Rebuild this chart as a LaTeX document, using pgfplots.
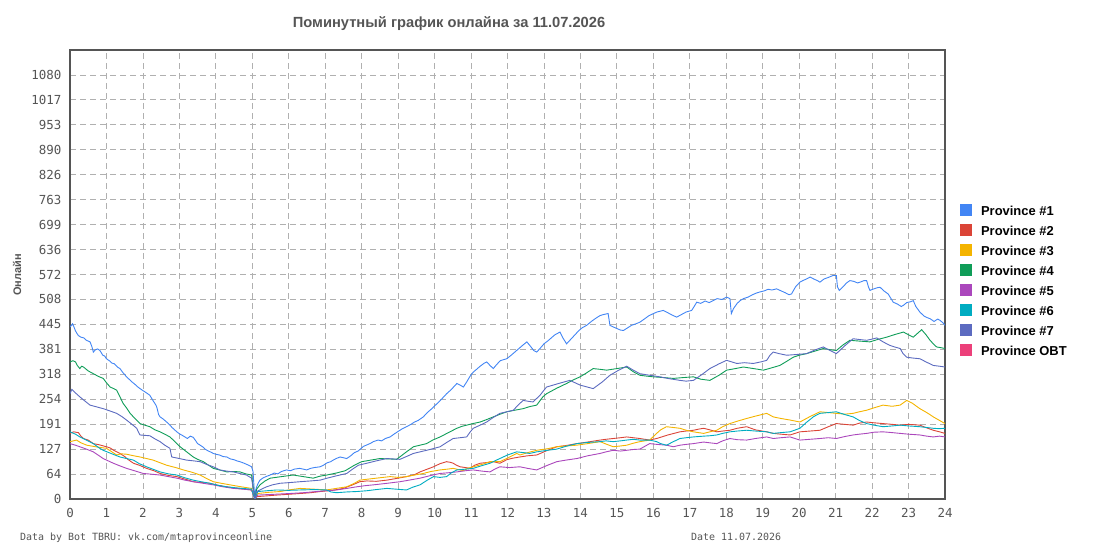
\documentclass[border=0pt]{standalone}
\usepackage{pgfplots}
\pgfplotsset{compat=1.18}
\usepackage{fontspec}
\setmainfont{Liberation Sans}
\newfontfamily\monofont{DejaVu Sans Mono}
\definecolor{pA}{HTML}{4285F4}
\definecolor{pB}{HTML}{DB4437}
\definecolor{pC}{HTML}{F4B400}
\definecolor{pD}{HTML}{0F9D58}
\definecolor{pE}{HTML}{AB47BC}
\definecolor{pF}{HTML}{00ACC1}
\definecolor{pG}{HTML}{5C6BC0}
\definecolor{pH}{HTML}{EC407A}
\definecolor{txt}{HTML}{555555}
\definecolor{gridc}{HTML}{B0B0B0}
\begin{document}
\begin{tikzpicture}
\useasboundingbox (0,0) rectangle (1095bp,550bp);
\begin{axis}[
  at={(70bp,51bp)}, anchor=south west,
  scale only axis, width=875bp, height=449bp,
  xmin=0, xmax=24, ymin=0, ymax=1143,
  xtick={0,1,2,3,4,5,6,7,8,9,10,11,12,13,14,15,16,17,18,19,20,21,22,23,24},
  xticklabels={0,1,2,3,4,5,6,7,8,9,10,11,12,13,14,15,16,17,18,19,20,21,22,23,24},
  ytick={0,63.5,127,190.5,254,317.5,381,444.5,508,571.5,635,698.5,762,825.5,889,952.5,1016,1079.5},
  yticklabels={0,64,127,191,254,318,381,445,508,572,636,699,763,826,890,953,1017,1080},
  major tick length=0pt,
  grid=major,
  grid style={gridc, line width=0.8bp, dash pattern=on 6bp off 4bp},
  axis line style={draw=txt, line width=1.2bp},
  tick label style={font=\monofont\fontsize{12.5}{13}\selectfont, text=txt},
  yticklabel style={xshift=-5bp},
  xticklabel style={yshift=-6bp},
  every axis plot/.append style={line width=0.9bp, mark=none},
  legend cell align=left,
  legend image code/.code={\fill[#1] (0bp,-3.5bp) rectangle (11bp,7.5bp);},
  legend style={at={(1.0171,0.657)}, anchor=north west, draw=none, fill=none,
    inner sep=0pt, row sep=6bp,
    font=\bfseries\fontsize{13}{13}\selectfont,
    nodes={inner sep=0pt, text height=9.5bp, text depth=2.5bp},
    /tikz/every odd column/.append style={column sep=9bp}},
]
\addplot[pA] coordinates {(0,438)(0.04,442)(0.07,446)(0.1,440)(0.15,428)(0.2,420)(0.23,416)(0.3,412)(0.38,410)(0.45,404)(0.55,400)(0.6,388)(0.64,374)(0.7,380)(0.76,382)(0.82,378)(0.9,366)(0.95,364)(1.0,357)(1.08,352)(1.15,346)(1.22,344)(1.3,336)(1.37,332)(1.45,322)(1.55,311)(1.62,305)(1.7,298)(1.78,292)(1.85,286)(1.92,281)(2.0,276)(2.1,270)(2.19,264)(2.28,250)(2.35,240)(2.38,234)(2.43,215)(2.47,209)(2.55,204)(2.65,196)(2.72,190)(2.8,182)(2.87,176)(2.93,171)(3.0,166)(3.08,162)(3.15,158)(3.22,154)(3.3,160)(3.38,157)(3.45,148)(3.5,141)(3.57,137)(3.65,132)(3.72,126)(3.8,122)(3.87,119)(3.93,116)(4.0,114)(4.1,112)(4.2,108)(4.3,107)(4.4,102)(4.5,100)(4.58,97)(4.66,95)(4.75,92)(4.85,88)(4.92,85)(4.98,82)(5.02,70)(5.07,0)(5.09,22)(5.12,31)(5.16,40)(5.21,48)(5.3,54)(5.4,58)(5.49,61)(5.6,66)(5.7,64)(5.8,70)(5.94,74)(6.05,72)(6.15,76)(6.3,78)(6.4,76)(6.49,74)(6.6,78)(6.7,80)(6.86,82)(6.95,86)(7.05,92)(7.15,95)(7.22,99)(7.3,103)(7.41,107)(7.5,105)(7.59,103)(7.7,110)(7.8,118)(7.9,122)(7.95,126)(8.05,134)(8.15,138)(8.25,142)(8.32,146)(8.45,150)(8.55,148)(8.65,154)(8.78,158)(8.9,166)(9.0,172)(9.1,178)(9.23,184)(9.35,190)(9.45,196)(9.55,200)(9.69,209)(9.8,220)(9.9,228)(9.97,234)(10.08,244)(10.2,255)(10.33,268)(10.45,278)(10.55,288)(10.61,294)(10.7,290)(10.79,285)(10.88,298)(10.97,312)(11.06,323)(11.15,330)(11.25,338)(11.35,345)(11.43,349)(11.52,340)(11.61,332)(11.7,342)(11.8,352)(11.9,355)(11.98,357)(12.1,366)(12.25,378)(12.4,390)(12.53,400)(12.62,390)(12.72,378)(12.8,374)(12.9,384)(13.0,395)(13.1,402)(13.2,410)(13.3,418)(13.44,425)(13.52,410)(13.62,395)(13.72,405)(13.85,418)(13.95,428)(14.05,436)(14.17,442)(14.3,452)(14.42,460)(14.54,467)(14.65,470)(14.76,472)(14.81,442)(14.9,438)(15.0,434)(15.1,430)(15.18,429)(15.3,436)(15.4,442)(15.52,446)(15.63,450)(15.75,458)(15.87,466)(16.0,472)(16.1,476)(16.27,480)(16.4,474)(16.52,468)(16.64,463)(16.78,470)(16.9,476)(17.05,480)(17.12,490)(17.19,501)(17.3,498)(17.42,504)(17.53,500)(17.64,505)(17.75,510)(17.88,508)(18.01,514)(18.1,510)(18.14,472)(18.2,485)(18.3,498)(18.38,505)(18.47,510)(18.6,514)(18.72,520)(18.82,524)(18.92,527)(19.05,530)(19.15,534)(19.25,532)(19.38,535)(19.5,530)(19.62,525)(19.72,520)(19.79,522)(19.9,540)(20.02,552)(20.1,556)(20.2,560)(20.3,565)(20.4,560)(20.5,556)(20.57,552)(20.68,560)(20.8,564)(20.93,569)(21.02,569)(21.05,540)(21.1,531)(21.2,540)(21.3,550)(21.39,556)(21.5,554)(21.6,550)(21.67,552)(21.78,556)(21.85,556)(21.9,540)(21.94,531)(22.05,535)(22.15,538)(22.22,539)(22.32,530)(22.44,522)(22.52,510)(22.58,501)(22.7,496)(22.8,490)(22.86,493)(22.95,500)(23.05,502)(23.13,505)(23.2,490)(23.31,476)(23.42,466)(23.5,462)(23.59,459)(23.7,452)(23.8,458)(23.86,455)(23.95,448)(24,442)};
\addlegendentry{Province \#1}
\addplot[pB] coordinates {(0,167)(0.1,171)(0.23,169)(0.3,160)(0.37,154)(0.5,150)(0.64,141)(0.8,138)(1.0,133)(1.1,130)(1.2,124)(1.37,116)(1.5,108)(1.6,100)(1.74,91)(1.9,86)(2.1,78)(2.3,72)(2.47,65)(2.7,60)(2.93,57)(3.1,52)(3.25,48)(3.38,44)(3.6,42)(3.84,40)(4.05,35)(4.3,31)(4.6,27)(4.8,25)(4.98,23)(5.07,0)(5.12,6)(5.4,8)(5.67,10)(6.0,12)(6.31,14)(6.6,16)(6.86,19)(7.2,22)(7.5,27)(7.75,36)(7.95,44)(8.14,46)(8.4,45)(8.69,48)(9.0,53)(9.23,57)(9.45,62)(9.6,69)(9.8,76)(9.97,82)(10.15,90)(10.33,95)(10.45,93)(10.51,91)(10.6,86)(10.7,82)(10.85,80)(10.97,78)(11.1,86)(11.25,91)(11.45,93)(11.61,95)(11.79,91)(11.98,100)(12.15,104)(12.34,107)(12.55,110)(12.8,112)(13.1,124)(13.35,133)(13.6,136)(13.9,141)(14.2,145)(14.54,150)(14.7,152)(14.9,154)(15.1,156)(15.27,158)(15.45,156)(15.63,154)(15.9,150)(16.09,154)(16.4,163)(16.73,171)(16.9,173)(17.1,175)(17.25,178)(17.38,180)(17.55,176)(17.74,171)(17.9,173)(18.1,175)(18.3,180)(18.56,184)(18.8,176)(19.11,171)(19.29,167)(19.5,165)(19.75,163)(20.02,171)(20.3,173)(20.57,175)(20.8,184)(21.02,192)(21.25,190)(21.48,188)(21.65,193)(21.85,196)(22.05,194)(22.3,192)(22.55,190)(22.77,188)(23.0,190)(23.31,188)(23.5,181)(23.68,175)(23.85,171)(24,167)};
\addlegendentry{Province \#2}
\addplot[pC] coordinates {(0,146)(0.18,150)(0.3,143)(0.46,137)(0.7,133)(1.0,129)(1.15,120)(1.28,112)(1.4,115)(1.55,114)(1.75,110)(1.92,107)(2.1,103)(2.28,99)(2.45,93)(2.65,86)(2.9,80)(3.11,74)(3.35,68)(3.57,61)(3.75,52)(3.93,44)(4.15,40)(4.39,36)(4.7,31)(4.98,27)(5.07,0)(5.15,14)(5.45,17)(5.76,19)(6.0,23)(6.31,27)(6.7,25)(7.04,23)(7.3,27)(7.59,31)(7.8,40)(7.95,48)(8.3,52)(8.78,57)(9.0,55)(9.23,57)(9.45,61)(9.69,65)(9.9,70)(10.15,74)(10.35,76)(10.51,78)(10.65,75)(10.79,72)(10.9,78)(11.06,82)(11.3,88)(11.52,95)(11.79,95)(12.0,104)(12.25,116)(12.34,112)(12.55,118)(12.8,124)(13.1,128)(13.35,133)(13.6,135)(13.9,137)(14.2,141)(14.54,146)(14.7,140)(14.9,133)(15.1,135)(15.27,137)(15.45,142)(15.63,146)(15.9,150)(16.09,167)(16.2,176)(16.36,184)(16.55,182)(16.73,180)(16.9,175)(17.1,171)(17.38,167)(17.55,171)(17.74,175)(17.9,184)(18.1,192)(18.3,198)(18.56,205)(18.8,211)(19.11,218)(19.29,209)(19.5,205)(19.75,201)(20.02,196)(20.3,210)(20.57,222)(20.8,220)(21.02,218)(21.25,216)(21.48,218)(21.65,222)(21.85,226)(22.05,232)(22.3,239)(22.55,236)(22.77,239)(22.95,251)(23.1,244)(23.31,230)(23.5,220)(23.68,209)(23.85,200)(24,192)};
\addlegendentry{Province \#3}
\addplot[pD] coordinates {(0,349)(0.08,352)(0.15,349)(0.2,340)(0.27,332)(0.32,338)(0.37,336)(0.5,326)(0.64,319)(0.78,312)(0.91,307)(1.0,296)(1.1,285)(1.2,281)(1.28,277)(1.36,262)(1.46,243)(1.55,232)(1.65,218)(1.78,205)(1.92,192)(2.05,188)(2.19,184)(2.33,176)(2.47,171)(2.6,165)(2.74,158)(2.88,146)(3.02,133)(3.2,120)(3.38,107)(3.5,101)(3.66,95)(3.8,86)(3.93,78)(4.1,74)(4.3,69)(4.5,70)(4.66,69)(4.82,64)(4.98,61)(5.07,0)(5.12,25)(5.21,36)(5.35,46)(5.49,53)(5.8,57)(6.12,61)(6.4,57)(6.67,53)(6.85,58)(7.04,61)(7.3,66)(7.55,72)(7.8,86)(8.0,95)(8.25,99)(8.5,103)(8.75,102)(8.96,101)(9.2,118)(9.42,133)(9.6,137)(9.78,141)(9.95,150)(10.15,158)(10.4,170)(10.61,180)(10.75,185)(10.88,188)(11.05,192)(11.25,196)(11.45,203)(11.61,209)(11.8,216)(11.98,222)(12.2,226)(12.43,230)(12.6,235)(12.8,239)(12.97,260)(13.07,268)(13.35,282)(13.62,294)(13.8,303)(13.99,311)(14.15,320)(14.35,332)(14.55,330)(14.72,328)(15.0,332)(15.27,336)(15.45,324)(15.63,315)(15.8,313)(16.0,311)(16.3,309)(16.55,307)(16.8,309)(17.1,311)(17.3,305)(17.55,302)(17.8,315)(18.01,328)(18.25,332)(18.47,336)(18.75,332)(19.02,328)(19.25,334)(19.47,340)(19.65,350)(19.84,361)(20.0,366)(20.2,370)(20.45,377)(20.66,383)(20.85,380)(21.02,378)(21.2,392)(21.39,404)(21.65,402)(21.94,400)(22.15,406)(22.4,412)(22.6,418)(22.86,425)(23.0,418)(23.13,412)(23.25,422)(23.36,431)(23.48,418)(23.59,404)(23.68,395)(23.77,387)(23.9,385)(24,383)};
\addlegendentry{Province \#4}
\addplot[pE] coordinates {(0,141)(0.15,137)(0.27,133)(0.45,127)(0.64,120)(0.8,110)(0.91,103)(1.05,97)(1.19,91)(1.35,85)(1.55,78)(1.8,71)(2.01,65)(2.25,63)(2.47,61)(2.7,57)(2.93,53)(3.15,48)(3.38,44)(3.65,40)(3.93,36)(4.2,31)(4.48,27)(4.75,25)(4.98,23)(5.07,0)(5.15,10)(5.6,12)(6.03,14)(6.4,16)(6.76,19)(7.0,21)(7.31,23)(7.6,27)(7.86,31)(8.1,34)(8.32,36)(8.7,40)(9.05,44)(9.3,48)(9.6,53)(9.9,60)(10.15,65)(10.4,67)(10.61,69)(10.85,72)(11.06,74)(11.3,71)(11.52,69)(11.65,76)(11.79,82)(12.05,80)(12.34,82)(12.55,78)(12.8,74)(13.1,86)(13.35,95)(13.6,99)(13.9,103)(14.2,110)(14.54,116)(14.7,120)(14.9,124)(15.1,122)(15.27,124)(15.45,126)(15.63,127)(15.9,141)(16.1,139)(16.36,137)(16.55,133)(16.73,137)(16.9,139)(17.1,141)(17.38,145)(17.55,143)(17.74,141)(17.9,148)(18.1,154)(18.3,151)(18.56,150)(18.8,154)(19.11,158)(19.29,154)(19.5,156)(19.75,158)(20.02,150)(20.3,152)(20.57,154)(20.8,156)(21.02,154)(21.25,159)(21.48,163)(21.65,165)(21.85,167)(22.05,170)(22.3,171)(22.55,169)(22.77,167)(23.0,165)(23.31,163)(23.5,160)(23.68,158)(23.85,160)(24,158)};
\addlegendentry{Province \#5}
\addplot[pF] coordinates {(0,171)(0.15,165)(0.27,158)(0.45,150)(0.64,141)(0.8,130)(0.91,124)(1.15,115)(1.37,107)(1.55,103)(1.74,99)(1.9,90)(2.1,82)(2.3,75)(2.47,69)(2.7,64)(2.93,61)(3.15,54)(3.38,48)(3.6,44)(3.84,40)(4.05,35)(4.3,31)(4.6,28)(4.98,25)(5.07,0)(5.15,19)(5.4,21)(5.67,23)(6.0,22)(6.31,23)(6.7,24)(7.04,23)(7.15,18)(7.31,16)(7.6,18)(7.86,19)(8.14,21)(8.4,24)(8.69,27)(8.95,25)(9.23,23)(9.4,30)(9.6,36)(9.8,48)(9.97,57)(10.15,55)(10.33,57)(10.45,66)(10.61,74)(10.85,76)(11.06,78)(11.3,85)(11.52,91)(11.65,97)(11.79,103)(12.0,112)(12.25,120)(12.45,118)(12.61,116)(12.8,120)(13.1,124)(13.35,127)(13.6,134)(13.9,141)(14.2,144)(14.54,146)(14.7,148)(14.9,146)(15.1,148)(15.27,150)(15.45,152)(15.63,150)(15.9,150)(16.09,146)(16.2,141)(16.36,137)(16.55,146)(16.73,154)(16.9,156)(17.1,158)(17.38,160)(17.55,161)(17.74,163)(17.9,167)(18.1,171)(18.3,173)(18.56,175)(18.8,173)(19.11,171)(19.29,167)(19.5,169)(19.75,171)(20.02,180)(20.2,195)(20.4,210)(20.57,218)(20.8,220)(21.02,222)(21.25,215)(21.48,209)(21.65,200)(21.85,192)(22.05,188)(22.3,184)(22.55,186)(22.77,188)(23.0,186)(23.31,184)(23.5,182)(23.68,180)(23.85,179)(24,180)};
\addlegendentry{Province \#6}
\addplot[pG] coordinates {(0,268)(0.05,279)(0.15,270)(0.27,260)(0.4,250)(0.55,239)(0.75,234)(0.91,230)(1.1,224)(1.28,218)(1.42,210)(1.55,201)(1.7,190)(1.83,180)(1.88,170)(1.92,163)(2.05,162)(2.19,161)(2.33,153)(2.47,146)(2.6,137)(2.74,129)(2.79,107)(3.0,103)(3.2,99)(3.4,97)(3.57,95)(3.75,88)(3.93,82)(4.11,74)(4.3,71)(4.48,69)(4.65,65)(4.84,61)(4.98,53)(5.07,0)(5.12,19)(5.25,25)(5.39,31)(5.55,36)(5.76,40)(6.05,42)(6.31,44)(6.6,46)(6.86,48)(7.05,53)(7.22,57)(7.4,61)(7.59,65)(7.75,76)(7.91,86)(8.14,91)(8.4,97)(8.69,103)(8.85,102)(9.05,101)(9.25,109)(9.42,116)(9.6,120)(9.78,124)(9.95,128)(10.15,133)(10.35,145)(10.51,154)(10.7,156)(10.88,158)(10.97,170)(11.06,180)(11.25,188)(11.43,196)(11.6,207)(11.79,218)(11.98,222)(12.16,226)(12.3,240)(12.43,251)(12.55,249)(12.7,247)(12.89,264)(13.07,285)(13.4,294)(13.71,302)(13.85,296)(13.99,290)(14.15,286)(14.35,281)(14.6,298)(14.81,315)(15.05,328)(15.27,338)(15.45,328)(15.63,319)(15.9,315)(16.18,311)(16.45,306)(16.73,302)(16.9,300)(17.1,302)(17.35,318)(17.55,332)(17.8,344)(18.01,353)(18.15,349)(18.29,345)(18.5,347)(18.74,345)(18.95,349)(19.11,353)(19.2,366)(19.29,374)(19.45,370)(19.66,366)(19.95,368)(20.2,370)(20.45,380)(20.66,387)(20.85,378)(21.02,370)(21.25,390)(21.48,408)(21.65,406)(21.85,404)(22.0,407)(22.13,410)(22.3,400)(22.49,391)(22.62,387)(22.77,383)(22.85,370)(22.95,361)(23.1,359)(23.31,357)(23.5,348)(23.68,340)(23.85,338)(24,336)};
\addlegendentry{Province \#7}
\addlegendimage{pH}
\addlegendentry{Province OBT}
\end{axis}
\node[text=txt, font=\bfseries\fontsize{14.75}{16}\selectfont] at (449bp,526bp) {Поминутный график онлайна за 11.07.2026};
\node[text=txt, font=\bfseries\fontsize{11}{12}\selectfont, rotate=90] at (17bp,275bp) {Онлайн};
\node[text=txt, font=\monofont\fontsize{10}{11}\selectfont, anchor=base west, inner sep=0pt] at (20bp,10bp) {Data by Bot TBRU: vk.com/mtaprovinceonline};
\node[text=txt, font=\monofont\fontsize{10}{11}\selectfont, anchor=base west, inner sep=0pt] at (691bp,10bp) {Date 11.07.2026};
\end{tikzpicture}
\end{document}
